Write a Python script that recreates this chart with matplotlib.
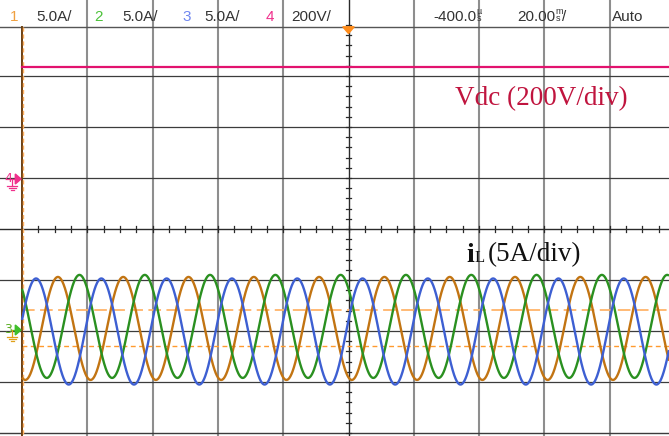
import numpy as np
import matplotlib
matplotlib.use("Agg")
import matplotlib.pyplot as plt
from matplotlib.patches import Polygon

# ---------------- scope settings / data ----------------
time_per_div_ms = 20.0
amps_per_div = 5.0
volts_per_div = 200.0

channel_numbers = ["1", "2", "3", "4"]
channel_scales = ["5.0A/", "5.0A/", "5.0A/", "200V/"]
channel_label_colors = ["#f0a040", "#4cc23a", "#6f86f0", "#f0308c"]
delay_text = "-400.0"
delay_unit = "µ\ns"
timebase_text = "20.00"
timebase_unit = "m\ns"
trigger_mode = "Auto"

# three-phase inductor currents (ch1 orange, ch2 green, ch3 blue)
phase_colors = ["#c27412", "#2a9020", "#3d5fd2"]
phase_amp_A = [5.05, 5.05, 5.2]
phase_dc_A = [0.25, 0.45, -0.05]
phase_peak_ms = [-89.0, -82.4, -95.7]
line_freq_hz = 50.0
current_ground_div = -2.0

# DC-link voltage (ch4)
vdc_volts = 435.0
vdc_ground_div = 1.0
vdc_color = "#e2126e"

# cursors
cursor_levels_div = [-1.59, -2.29]

# ---------------- figure ----------------
W, H = 669, 436
fig = plt.figure(figsize=(W / 100, H / 100), dpi=100)
ax = fig.add_axes([0, 0, 1, 1])
ax.set_axis_off()

CX, CY, PXDIV_X, PXDIV_Y = 348.5, 229.0, 65.3, 51.0


def X(px):
    return (px - CX) / PXDIV_X * time_per_div_ms


def Y(py):
    return (CY - py) / PXDIV_Y


ax.set_xlim(X(0), X(W))
ax.set_ylim(Y(H), Y(0))

# grid
for d in range(-4, 5):
    if d == 0:
        continue
    ax.axvline(d * time_per_div_ms, ymin=0, ymax=1, color="#8e8e8e", lw=1.5,
               zorder=1)
for d in [-3, -2, -1, 1, 2, 3]:
    ax.axhline(d, color="#3c3c3c", lw=0.9, zorder=1)
ax.axhline(0, color="#2a2a2a", lw=1.0, zorder=1.5)
ax.axvline(0, color="#2a2a2a", lw=1.0, zorder=1.5)
ax.axhline(Y(27), color="#555555", lw=1.0, zorder=1)
ax.axhline(Y(433), color="#3c3c3c", lw=1.0, zorder=1)

# minor ticks on center lines
for k in np.arange(-5, 5.01, 0.25):
    t = k * time_per_div_ms
    ax.plot([t, t], [-0.06, 0.06], color="#2a2a2a", lw=0.9, zorder=1.5)
for k in np.arange(-4, 4.01, 0.2):
    ax.plot([X(345.8), X(351.2)], [k, k], color="#2a2a2a", lw=0.9, zorder=1.5)

# cursors
xmin_frac = (X(22) - X(0)) / (X(W) - X(0))
ax.axhline(cursor_levels_div[0], xmin=xmin_frac, color="#ffb46a",
           lw=1.3, dashes=(7, 3), zorder=2)
ax.axhline(cursor_levels_div[1], xmin=xmin_frac, color="#ff9a2e",
           lw=1.0, dashes=(3.5, 2.5), zorder=2)
ax.plot([X(21.6), X(21.6)], [Y(27), Y(436)], color="#6b3e10", lw=1.4, zorder=3)
ax.plot([X(23.4), X(23.4)], [Y(27), Y(436)], color="#ffb060", lw=1.0,
        dashes=(3, 2), zorder=3)

# traces
t = np.linspace(X(22), X(W), 3000)
for amp, dc, tpk, col in zip(phase_amp_A, phase_dc_A, phase_peak_ms, phase_colors):
    i = dc + amp * np.cos(2 * np.pi * line_freq_hz * (t - tpk) / 1000.0)
    ax.plot(t, i / amps_per_div + current_ground_div, color=col, lw=1.7,
            zorder=4, solid_capstyle="butt")

ax.plot([X(22), X(W)], [vdc_volts / volts_per_div + vdc_ground_div] * 2,
        color=vdc_color, lw=1.6, zorder=4)

# header
hfont = dict(family="Liberation Sans", fontsize=11, va="baseline", ha="left")
num_x = [10, 94, 182, 266]
scale_x = [36, 122, 204, 291]
for n, s, c, nx, sx in zip(channel_numbers, channel_scales, channel_label_colors,
                           num_x, scale_x):
    ax.text(X(nx), Y(20.7), n, color=c, **hfont)
    ax.text(X(sx), Y(20.7), s, color="#333333", **hfont)
ufont = dict(family="Liberation Sans", fontsize=6.5, va="center", ha="left",
             linespacing=0.8, color="#333333")
ax.text(X(433), Y(20.7), delay_text, color="#333333", **hfont)
ax.text(X(476.5), Y(15.0), delay_unit, **ufont)
ax.text(X(517), Y(20.7), timebase_text, color="#333333", **hfont)
ax.text(X(555.3), Y(15.0), timebase_unit, **ufont)
ax.text(X(561.5), Y(20.7), "/", color="#333333", **hfont)
ax.text(X(612), Y(20.7), trigger_mode, color="#333333", **hfont)

# trigger marker
ax.add_patch(Polygon([(X(342.8), Y(26.8)), (X(354.2), Y(26.8)), (X(348.5), Y(33.5))],
                     closed=True, color="#ff8c1a", zorder=6))


def channel_marker(py, label, label_color, arrow_color, gnd_color):
    ax.text(X(4.0), Y(py - 0.5), label, color=label_color, family="DejaVu Sans",
            fontsize=9, va="center", ha="left", zorder=6)
    ax.add_patch(Polygon([(X(15.3), Y(py - 5)), (X(15.3), Y(py + 5)), (X(21), Y(py))],
                         closed=True, color=arrow_color, zorder=6))
    ax.plot([X(12.3), X(15.5)], [Y(py), Y(py)], color=arrow_color, lw=0.9, zorder=6)
    ax.plot([X(12.3), X(12.3)], [Y(py), Y(py + 7)], color=gnd_color, lw=0.9, zorder=6)
    for dy, hw in [(7, 5), (9.2, 3.3), (11.4, 1.6)]:
        ax.plot([X(12.3 - hw), X(12.3 + hw)], [Y(py + dy)] * 2, color=gnd_color,
                lw=0.9, zorder=6)


channel_marker(179, "4", "#f0308c", "#f0308c", "#f0308c")
channel_marker(330, "3", "#5aae22", "#3fbf2a", "#e0a018")

# annotations
ax.text(X(455), Y(105), "Vdc (200V/div)", color="#c0143e",
        family="Liberation Serif", fontsize=19.5, va="baseline", ha="left", zorder=7)
ax.text(X(466), Y(261.5), "i", color="#111111", family="Liberation Serif",
        fontsize=20, fontweight="bold", va="baseline", ha="left", zorder=7)
ax.text(X(474.5), Y(261.5), "L", color="#111111", family="Liberation Serif",
        fontsize=12, va="baseline", ha="left", zorder=7)
ax.text(X(487.5), Y(261.5), "(5A/div)", color="#111111", family="Liberation Serif",
        fontsize=19.5, va="baseline", ha="left", zorder=7)

fig.savefig("out.png", dpi=100, facecolor="white")
